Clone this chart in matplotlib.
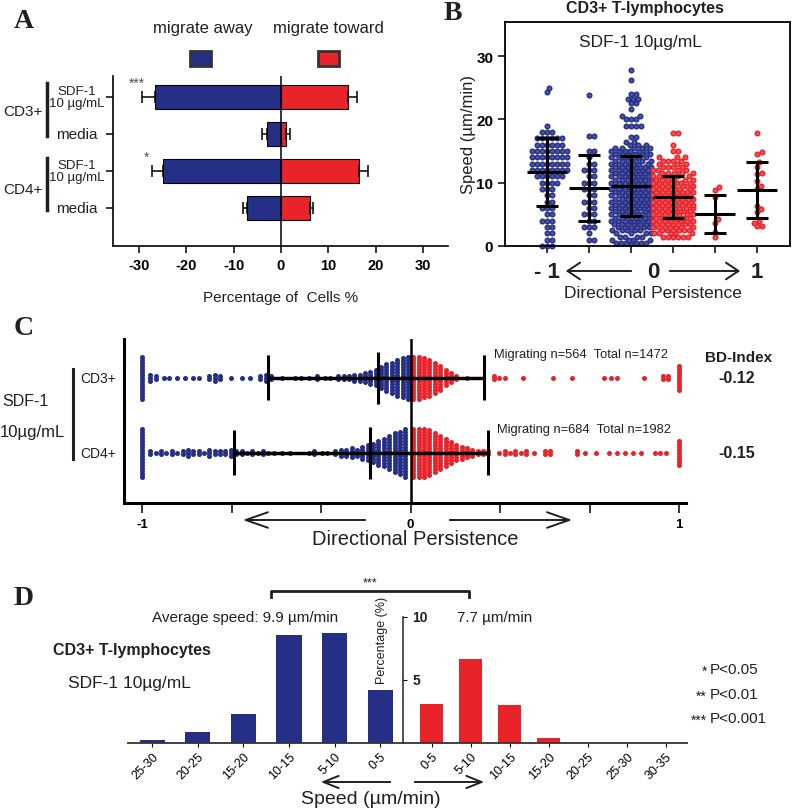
import matplotlib
matplotlib.use('Agg')
import matplotlib.pyplot as plt
import numpy as np
from matplotlib.lines import Line2D
from matplotlib.patches import Rectangle, FancyArrowPatch

# ---------------- data ----------------
# A: percentage of cells migrating away / toward the source
a_rows = ['SDF-1\n10 µg/mL', 'media', 'SDF-1\n10 µg/mL', 'media']
a_away = [-26.6, -3.0, -24.9, -7.2]
a_away_err = [2.6, 1.0, 2.3, 0.7]
a_toward = [14.1, 1.1, 16.5, 6.1]
a_toward_err = [1.9, 0.8, 1.9, 0.6]
a_stars = ['***', '', '*', '']

# B: speed of CD3+ cells per persistence group (speed level, number of cells)
b_g1_lv = [0, 1, 2, 3, 4, 5, 6, 7, 8, 9, 10, 11, 12, 13, 14, 15, 16, 17, 18, 19, 24.3, 25]
b_g1_n = [3, 2, 2, 2, 3, 2, 3, 2, 2, 3, 4, 6, 8, 8, 8, 8, 6, 6, 3, 1, 1, 1]
b_g2_lv = [1, 2, 3, 4, 5, 6, 7, 8, 9, 10, 11, 12, 13, 14, 15, 17.4, 23.8]
b_g2_n = [2, 1, 3, 2, 3, 2, 3, 2, 3, 3, 2, 3, 2, 1, 2, 2, 1]
b_g3_lv = [0.5, 1, 1.5, 2, 2.5, 3, 3.5, 4, 4.5, 5, 5.5, 6, 6.5, 7, 7.5, 8, 8.5, 9, 9.5, 10,
           10.5, 11, 11.5, 12, 12.5, 13, 13.5, 14, 14.5, 15, 15.5,
           16, 16.5, 17.2, 19, 20, 20.5, 21.7, 22.6, 23.3, 24, 26.2, 27.8]
b_g3_n = [7, 4, 4, 4, 5, 6, 7, 8, 8, 8, 7, 8, 8, 8, 8, 8, 8, 8, 8, 8,
          8, 8, 8, 8, 8, 7, 7, 7, 7, 6, 5,
          3, 2, 2, 4, 3, 2, 1, 2, 3, 2, 1, 1]
b_g4_lv = [1.5, 2, 2.5, 3, 3.5, 4, 4.5, 5, 5.5, 6, 6.5, 7, 7.5, 8, 8.5, 9, 9.5, 10,
           10.5, 11, 11.5, 12, 12.5, 13, 13.5, 14, 15, 16, 17.8]
b_g4_n = [6, 5, 6, 7, 7, 8, 8, 8, 8, 8, 8, 8, 8, 8, 8, 7, 7, 7, 6, 6, 5, 4, 4, 3, 4, 3, 2, 1, 2]
b_g5_lv = [1.4, 2.2, 3.6, 4.2, 7.7, 8.8, 9.3]
b_g5_n = [1, 1, 1, 1, 1, 1, 1]
b_g6_lv = [3.1, 3.2, 3.7, 3.9, 5.3, 5.8, 6.3, 9.0, 9.5, 10.3, 11.4, 11.6, 12.5, 13.2, 14.6, 14.8, 17.8]
b_g6_n = [1, 1, 1, 1, 1, 1, 1, 1, 1, 1, 1, 1, 1, 1, 1, 1, 1]
b_mean = [11.7, 9.1, 9.5, 7.7, 5.1, 8.9]
b_sd_lo = [6.4, 4.0, 4.7, 4.5, 2.1, 4.5]
b_sd_hi = [17.0, 14.4, 14.3, 11.0, 8.1, 13.3]

# C: directional persistence (persistence level, number of cells)
c_rows = ['CD3+', 'CD4+']
c_cd3_away_dp = [-1.0, -0.97, -0.95, -0.92, -0.9, -0.87, -0.84, -0.81, -0.79, -0.75, -0.73, -0.71,
                 -0.67, -0.63, -0.6, -0.56, -0.54, -0.52, -0.48, -0.43, -0.41, -0.38, -0.35, -0.32,
                 -0.3, -0.27, -0.25, -0.23, -0.21, -0.19, -0.17, -0.15, -0.13, -0.11, -0.09, -0.07,
                 -0.05, -0.03, -0.01]
c_cd3_away_n = [15, 3, 2, 1, 1, 1, 1, 1, 1, 2, 3, 2,
                1, 1, 1, 2, 3, 2, 1, 1, 1, 1, 2, 1,
                1, 2, 2, 2, 3, 3, 4, 5, 6, 8, 10, 11,
                13, 14, 15]
c_cd3_toward_dp = [0.01, 0.03, 0.05, 0.07, 0.09, 0.11, 0.13, 0.15, 0.17, 0.21, 0.31, 0.33, 0.35,
                   0.42, 0.53, 0.6, 0.72, 0.745, 0.77, 0.87, 0.94, 0.96, 1.0]
c_cd3_toward_n = [15, 15, 14, 13, 11, 9, 6, 4, 2, 1, 2, 1, 1,
                  1, 1, 1, 1, 1, 1, 1, 2, 2, 9]
c_cd4_away_dp = [-1.0, -0.97, -0.95, -0.93, -0.91, -0.89, -0.87, -0.85, -0.83, -0.81, -0.79, -0.77,
                 -0.75, -0.73, -0.71, -0.69, -0.67, -0.65, -0.63, -0.61, -0.59, -0.57, -0.55, -0.53,
                 -0.51, -0.48, -0.45, -0.38, -0.36, -0.33, -0.31, -0.28, -0.26, -0.24, -0.22, -0.2,
                 -0.18, -0.16, -0.14, -0.12, -0.1, -0.08, -0.06, -0.04, -0.02]
c_cd4_away_n = [17, 2, 1, 2, 1, 2, 1, 2, 3, 2, 2, 1,
                3, 2, 2, 2, 3, 2, 2, 1, 2, 1, 2, 1,
                1, 1, 1, 1, 2, 1, 1, 2, 3, 3, 4, 3,
                5, 6, 7, 9, 10, 12, 14, 15, 17]
c_cd4_toward_dp = [0.01, 0.03, 0.05, 0.07, 0.09, 0.11, 0.13, 0.15, 0.17, 0.19, 0.21, 0.23, 0.25,
                   0.27, 0.29, 0.33, 0.35, 0.37, 0.39, 0.41, 0.43, 0.46, 0.5, 0.52, 0.62, 0.65,
                   0.69, 0.74, 0.77, 0.8, 0.83, 0.86, 0.91, 0.93, 0.95, 1.0]
c_cd4_toward_n = [17, 17, 17, 16, 14, 12, 10, 8, 6, 5, 4, 3, 2,
                  2, 2, 1, 2, 1, 2, 1, 2, 1, 2, 2, 2, 1,
                  1, 1, 1, 1, 1, 1, 1, 1, 1, 9]
c_mean = [-0.12, -0.15]
c_lo = [-0.53, -0.66]
c_hi = [0.275, 0.29]
c_notes = ['Migrating n=564  Total n=1472', 'Migrating n=684  Total n=1982']
c_bd = ['-0.12', '-0.15']

# D: speed distribution (%)
d_away_bins = ['25-30', '20-25', '15-20', '10-15', '5-10', '0-5']
d_away = [0.2, 0.85, 2.3, 8.6, 8.7, 4.2]
d_toward_bins = ['0-5', '5-10', '10-15', '15-20', '20-25', '25-30', '30-35']
d_toward = [3.1, 6.7, 3.0, 0.4, 0, 0, 0]

# ---------------- style ----------------
BLUE = '#252f86'
RED = '#e8232a'
BLUE_F = '#4b53a0'
RED_F = '#ef5359'
INK = '#231f20'
SERIF = ['Liberation Serif', 'DejaVu Serif']
plt.rcParams['font.family'] = ['Liberation Sans', 'DejaVu Sans']
plt.rcParams['axes.unicode_minus'] = False
plt.rcParams['text.color'] = INK

W, H = 800, 812
fig = plt.figure(figsize=(W / 100, H / 100), dpi=100)


def P(x, y):
    return x / W, 1 - y / H


def add_ax(l, t, r, b):
    return fig.add_axes([l / W, 1 - b / H, (r - l) / W, (b - t) / H])


def ftext(x, y, s, **kw):
    kw.setdefault('va', 'center')
    fig.text(*P(x, y), s, **kw)


def fline(xs, ys, **kw):
    fig.add_artist(Line2D([x / W for x in xs], [1 - y / H for y in ys],
                          transform=fig.transFigure, color=INK, **kw))


def farrow(x0, y0, x1, y1, hl, hw):
    fig.add_artist(FancyArrowPatch(P(x0, y0), P(x1, y1), transform=fig.transFigure,
                                   arrowstyle=f'->,head_length={hl},head_width={hw}',
                                   mutation_scale=20, lw=1.4, color=INK))


def swarm(vals, unit_px, half_w, d):
    # simple beeswarm in pixel space, returns x offsets in px
    ys = np.asarray(vals, float) * unit_px
    offs = np.zeros(len(ys))
    cands = [0.0]
    for k in range(1, int(half_w) + 1):
        cands += [k, -k]
    px_, py_ = [], []
    for i in np.argsort(ys, kind='stable'):
        y = ys[i]
        ax_ = np.array(px_)
        ay_ = np.array(py_)
        near = np.abs(ay_ - y) < d if len(ay_) else np.array([], bool)
        best, bestd = 0.0, -1
        for c in cands:
            md = np.min(np.hypot(ax_[near] - c, ay_[near] - y)) if near.any() else 1e9
            if md >= d:
                best = c
                break
            if md > bestd:
                bestd, best = md, c
        offs[i] = best
        px_.append(best)
        py_.append(y)
    return offs


# ---------------- panel A ----------------
axA = add_ax(113, 77, 448, 247)
ya = np.arange(len(a_rows))
axA.barh(ya, a_away, height=0.65, color=BLUE, edgecolor='black', lw=0.8, zorder=2)
axA.barh(ya, a_toward, height=0.65, color=RED, edgecolor='black', lw=0.8, zorder=2)
axA.errorbar(a_away, ya, xerr=[a_away_err, np.zeros(4)], fmt='none', ecolor='black',
             elinewidth=1.1, capsize=4.5, capthick=1.1, zorder=3)
axA.errorbar(a_toward, ya, xerr=[np.zeros(4), a_toward_err], fmt='none', ecolor='black',
             elinewidth=1.1, capsize=4.5, capthick=1.1, zorder=3)
axA.axvline(0, color='black', lw=1.1, zorder=4)
axA.set_xlim(-35.4, 35.2)
axA.set_ylim(4.03, -0.57)
for s in ['top', 'right']:
    axA.spines[s].set_visible(False)
for s in ['left', 'bottom']:
    axA.spines[s].set_linewidth(1.2)
axA.set_xticks([-30, -20, -10, 0, 10, 20, 30])
axA.set_xticklabels(['-30', '-20', '-10', '0', '10', '20', '30'], fontweight='bold', fontsize=10.5)
axA.set_yticks(ya)
axA.set_yticklabels([])
axA.tick_params(length=5, width=1.1)
for i, lab in enumerate(a_rows):
    axA.text(-0.107, i, lab, transform=axA.get_yaxis_transform(), ha='center', va='center',
             fontsize=9.5 if '\n' in lab else 11, linespacing=1.0)
for i, st in enumerate(a_stars):
    if st:
        axA.text(a_away[i] - a_away_err[i] - 1.2, i - 0.38, st, ha='center', va='center',
                 fontsize=10, color='#555555')
fline([47, 47], [84, 137], lw=2.5)
fline([47, 47], [159, 211], lw=2.5)
ftext(43, 112, 'CD3+', ha='right', fontsize=11)
ftext(43, 190, 'CD4+', ha='right', fontsize=11)
ftext(281, 298, 'Percentage of  Cells %', ha='center', fontsize=11)
ftext(203, 28, 'migrate away', ha='center', fontsize=12)
ftext(328, 28, 'migrate toward', ha='center', fontsize=12)
fig.add_artist(Rectangle(P(190, 67), 21 / W, 15 / H, transform=fig.transFigure,
                         facecolor=BLUE, edgecolor='#333333', lw=2))
fig.add_artist(Rectangle(P(318, 67), 21 / W, 15 / H, transform=fig.transFigure,
                         facecolor=RED, edgecolor='#333333', lw=2))
ftext(14, 22, 'A', fontsize=20, fontweight='bold', family=SERIF)

# ---------------- panel B ----------------
axB = add_ax(505, 23, 790, 247)
b_groups = [(b_g1_lv, b_g1_n), (b_g2_lv, b_g2_n), (b_g3_lv, b_g3_n),
            (b_g4_lv, b_g4_n), (b_g5_lv, b_g5_n), (b_g6_lv, b_g6_n)]
unit_y = 224 / 35.4
unit_x = 42.0
for i, (lv, n) in enumerate(b_groups):
    vals = np.repeat(lv, n)
    offs = swarm(vals, unit_y, 20, 4.6) / unit_x
    col, fc = (BLUE, BLUE_F) if i < 3 else (RED, RED_F)
    axB.scatter(i + offs, vals, s=11, marker='o', facecolor=fc, edgecolor=col,
                lw=1.0, zorder=2, clip_on=False)
    axB.hlines(b_mean[i], i - 0.48, i + 0.48, color='black', lw=2.2, zorder=3)
    axB.vlines(i, b_sd_lo[i], b_sd_hi[i], color='black', lw=2.2, zorder=3)
    axB.hlines([b_sd_lo[i], b_sd_hi[i]], i - 0.26, i + 0.26, color='black', lw=2.2, zorder=3)
axB.set_xlim(-1.0, 5.79)
axB.set_ylim(0, 35.4)
for s in axB.spines.values():
    s.set_linewidth(1.3)
axB.set_xticks(range(6))
axB.set_xticklabels([])
axB.set_yticks([0, 10, 20, 30])
axB.set_yticklabels(['0', '10', '20', '30'], fontweight='bold', fontsize=11)
axB.tick_params(length=5, width=1.1)
ftext(468, 135, 'Speed (µm/min)', ha='center', rotation=90, fontsize=12)
ftext(645, 9, 'CD3+ T-lymphocytes', ha='center', fontweight='bold', fontsize=11.5)
ftext(640, 43, 'SDF-1 10µg/mL', ha='center', fontsize=12.5)
ftext(547, 272, '- 1', ha='center', fontsize=16, fontweight='bold')
ftext(653, 272, '0', ha='center', fontsize=16, fontweight='bold')
ftext(757, 272, '1', ha='center', fontsize=16, fontweight='bold')
farrow(634, 272, 563, 272, 0.45, 0.3)
farrow(667, 272, 743, 272, 0.45, 0.3)
ftext(653, 294, 'Directional Persistence', ha='center', fontsize=12.5)
ftext(444, 14, 'B', fontsize=20, fontweight='bold', family=SERIF)

# ---------------- panel C ----------------
axC = add_ax(124, 340, 686, 504)
c_data = [(c_cd3_away_dp, c_cd3_away_n, c_cd3_toward_dp, c_cd3_toward_n),
          (c_cd4_away_dp, c_cd4_away_n, c_cd4_toward_dp, c_cd4_toward_n)]
dy = 3 / 75
for r, (adp, an, tdp, tn) in enumerate(c_data):
    row = 1 - r
    for dp, n, col in [(adp, an, BLUE), (tdp, tn, RED)]:
        xs = np.repeat(dp, n)
        ys = np.concatenate([row + (np.arange(k) - (k - 1) / 2) * dy for k in n])
        axC.scatter(xs, ys, s=13, color=col, lw=0, zorder=2, clip_on=False)
    axC.hlines(row, c_lo[r], c_hi[r], color='black', lw=2.5, zorder=3)
    axC.vlines([c_lo[r], c_hi[r]], row - 0.3, row + 0.3, color='black', lw=2.2, zorder=3)
    axC.vlines(c_mean[r], row - 0.35, row + 0.35, color='black', lw=2.2, zorder=3)
axC.axvline(0, color='black', lw=1.8, zorder=4)
axC.set_xlim(-1.068, 1.026)
axC.set_ylim(-0.667, 1.52)
for s in ['top', 'right']:
    axC.spines[s].set_visible(False)
for s in ['left', 'bottom']:
    axC.spines[s].set_linewidth(2.2)
axC.set_yticks([])
axC.set_xticks([-1, -2 / 3, -1 / 3, 0, 1 / 3, 2 / 3, 1])
axC.set_xticklabels(['-1', '', '', '0', '', '', '1'], fontweight='bold', fontsize=9.5)
axC.tick_params(axis='x', length=7, width=1.1, pad=4)
for r in range(2):
    ftext(494 + 3 * r, 355 + 75 * r, c_notes[r], ha='left', fontsize=9.3)
    ftext(737, 379 + 75 * r, c_bd[r], ha='center', fontsize=11.5, fontweight='bold')
    ftext(80, 379 + 75 * r, c_rows[r], ha='left', fontsize=10)
ftext(739, 358, 'BD-Index', ha='center', fontsize=11, fontweight='bold')
fline([73, 73], [370, 460], lw=2.2)
ftext(25, 402, 'SDF-1', ha='center', fontsize=11.5)
ftext(0, 433, '10µg/mL', ha='left', fontsize=12)
farrow(368, 521, 240, 521, 0.8, 0.28)
farrow(447, 521, 575, 521, 0.8, 0.28)
ftext(415, 540, 'Directional Persistence', ha='center', fontsize=14.5)
ftext(14, 329, 'C', fontsize=20, fontweight='bold', family=SERIF)

# ---------------- panel D ----------------
axDL = add_ax(128, 618, 403, 744)
axDR = add_ax(403, 618, 687, 744)
axDL.bar(range(len(d_away)), d_away, width=0.55, color=BLUE)
axDR.bar(range(len(d_toward)), d_toward, width=0.59, color=RED)
axDL.set_xlim(-0.53, 5.5)
axDR.set_xlim(-0.74, 6.54)
for ax, bins in [(axDL, d_away_bins), (axDR, d_toward_bins)]:
    ax.set_ylim(0, 10)
    ax.patch.set_visible(False)
    for s in ['top', 'right', 'left']:
        ax.spines[s].set_visible(False)
    ax.spines['bottom'].set_linewidth(1.3)
    ax.spines['bottom'].set_color('#333333')
    ax.set_xticks(range(len(bins)))
    ax.set_xticklabels(bins, rotation=45, ha='right', va='top', rotation_mode='anchor',
                       fontsize=9)
    ax.tick_params(axis='x', length=3, width=0.8, pad=2)
axDL.set_yticks([])
axDR.spines['left'].set_visible(True)
axDR.spines['left'].set_linewidth(1.2)
axDR.spines['left'].set_color('#333333')
axDR.set_yticks([5, 10])
axDR.set_yticklabels([])
axDR.tick_params(axis='y', direction='in', length=3, width=0.8)
for v in [5, 10]:
    axDR.text(0.032, v, str(v), transform=axDR.get_yaxis_transform(), ha='left', va='center',
              fontsize=10, fontweight='bold')
fline([271, 271, 469, 469], [598, 592, 592, 598], lw=2)
ftext(370, 583, '***', ha='center', fontsize=9)
ftext(152, 618, 'Average speed: 9.9 µm/min', ha='left', fontsize=11)
ftext(457, 618, '7.7 µm/min', ha='left', fontsize=11)
ftext(382, 640, 'Percentage (%)', ha='center', rotation=90, fontsize=9)
ftext(53, 651, 'CD3+ T-lymphocytes', ha='left', fontsize=11.5, fontweight='bold')
ftext(68, 684, 'SDF-1 10µg/mL', ha='left', fontsize=12.5)
for y, st, p in [(670, '*', 'P<0.05'), (695, '**', 'P<0.01'), (719, '***', 'P<0.001')]:
    ftext(707, y + 2, st, ha='right', fontsize=10)
    ftext(710, y, p, ha='left', fontsize=11)
farrow(393, 783, 318, 783, 0.55, 0.22)
farrow(412, 783, 487, 783, 0.55, 0.22)
ftext(371, 800, 'Speed (µm/min)', ha='center', fontsize=14)
ftext(14, 599, 'D', fontsize=20, fontweight='bold', family=SERIF)

fig.savefig('out.png', dpi=100)
